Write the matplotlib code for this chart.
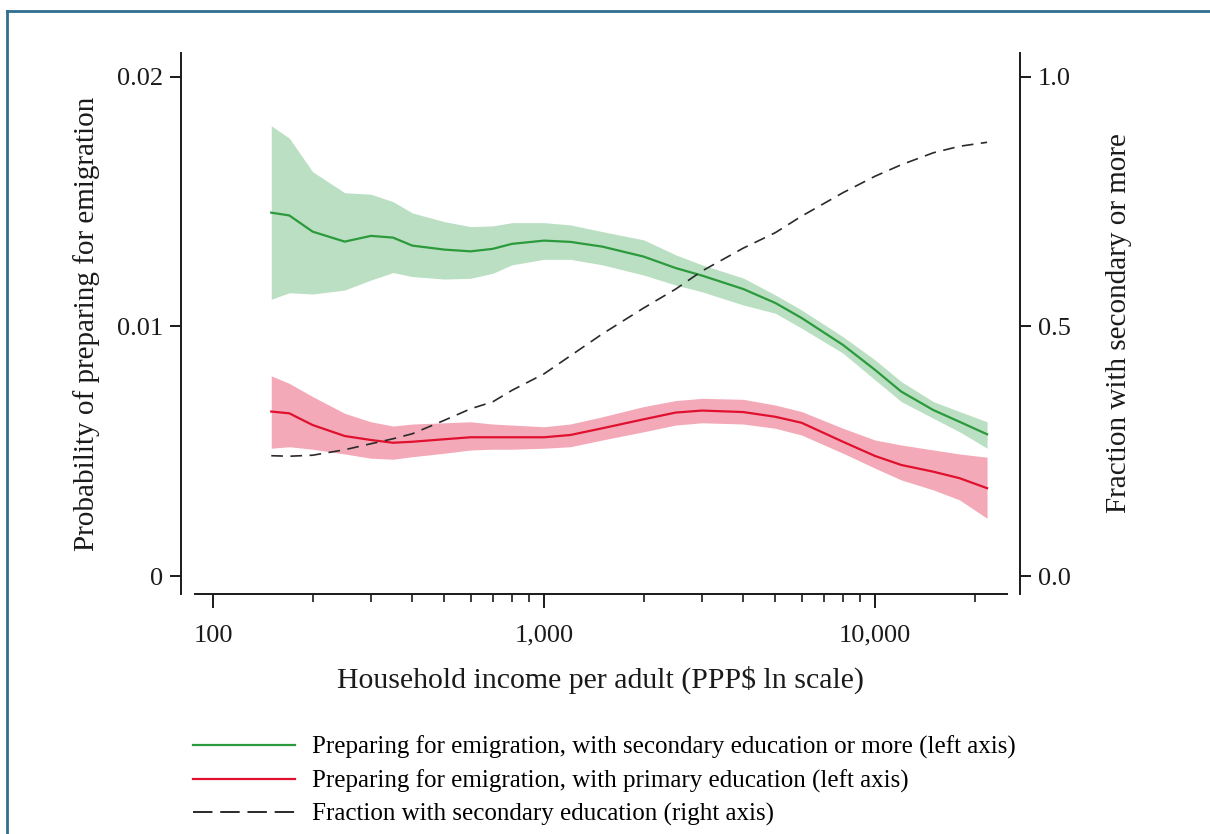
import matplotlib
matplotlib.use("Agg")
import matplotlib.pyplot as plt
from matplotlib.lines import Line2D
from matplotlib.ticker import FixedLocator, NullFormatter

plt.rcParams['font.family'] = ['Liberation Serif', 'DejaVu Serif']

# ---------- data ----------
income = [150, 170, 200, 250, 300, 350, 400, 500, 600, 700, 800, 1000, 1200,
          1500, 2000, 2500, 3000, 4000, 5000, 6000, 8000, 10000, 12000, 15000,
          18000, 21800]

sec_mid = [0.01456, 0.01445, 0.01380, 0.01340, 0.01363, 0.01356, 0.01324, 0.01308,
           0.01301, 0.01311, 0.01331, 0.01344, 0.01339, 0.01320, 0.01280, 0.01234,
           0.01204, 0.01150, 0.01094, 0.01034, 0.00926, 0.00826, 0.00739, 0.00665,
           0.00618, 0.00568]
sec_hi = [0.01804, 0.01755, 0.01620, 0.01536, 0.01530, 0.01500, 0.01455, 0.01420,
          0.01400, 0.01403, 0.01416, 0.01416, 0.01407, 0.01380, 0.01347, 0.01287,
          0.01247, 0.01194, 0.01126, 0.01066, 0.00959, 0.00866, 0.00779, 0.00699,
          0.00659, 0.00618]
sec_lo = [0.01109, 0.01135, 0.01130, 0.01146, 0.01186, 0.01216, 0.01200, 0.01190,
          0.01193, 0.01213, 0.01247, 0.01269, 0.01269, 0.01247, 0.01206, 0.01166,
          0.01139, 0.01086, 0.01053, 0.00993, 0.00893, 0.00786, 0.00699, 0.00632,
          0.00578, 0.00512]

pri_mid = [0.00659, 0.00652, 0.00605, 0.00561, 0.00545, 0.00534, 0.00538, 0.00548,
           0.00556, 0.00556, 0.00556, 0.00556, 0.00565, 0.00592, 0.00628, 0.00655,
           0.00663, 0.00657, 0.00638, 0.00614, 0.00538, 0.00481, 0.00445, 0.00418,
           0.00392, 0.00352]
pri_hi = [0.00802, 0.00772, 0.00719, 0.00652, 0.00618, 0.00601, 0.00609, 0.00614,
          0.00618, 0.00609, 0.00605, 0.00598, 0.00609, 0.00638, 0.00679, 0.00703,
          0.00712, 0.00708, 0.00685, 0.00659, 0.00592, 0.00545, 0.00525, 0.00505,
          0.00489, 0.00476]
pri_lo = [0.00512, 0.00518, 0.00508, 0.00489, 0.00472, 0.00468, 0.00478, 0.00492,
          0.00505, 0.00508, 0.00508, 0.00512, 0.00518, 0.00545, 0.00578, 0.00605,
          0.00614, 0.00609, 0.00592, 0.00565, 0.00492, 0.00432, 0.00385, 0.00345,
          0.00305, 0.00231]

frac_secondary = [0.241, 0.240, 0.242, 0.253, 0.265, 0.275, 0.285, 0.312, 0.335,
                  0.349, 0.372, 0.405, 0.441, 0.485, 0.537, 0.575, 0.611, 0.657,
                  0.688, 0.721, 0.768, 0.801, 0.824, 0.848, 0.861, 0.869]

x_major = [100, 1000, 10000]
x_major_labels = ["100", "1,000", "10,000"]
x_minor = [200, 300, 400, 500, 600, 700, 800, 900,
           2000, 3000, 4000, 5000, 6000, 7000, 8000, 9000, 20000]
left_ticks = [0, 0.01, 0.02]
left_labels = ["0", "0.01", "0.02"]
right_ticks = [0.0, 0.5, 1.0]
right_labels = ["0.0", "0.5", "1.0"]

labels = ["Preparing for emigration, with secondary education or more (left axis)",
          "Preparing for emigration, with primary education (left axis)",
          "Fraction with secondary education (right axis)"]

GREEN = "#2b9a3c"
GREEN_FILL = "#bbdfc2"
RED = "#e0102f"
RED_FILL = "#f4a9b8"
TEXT = "#1a1a1a"

fig = plt.figure(figsize=(12.1, 8.34), dpi=100)
ax = fig.add_axes([0.1496, 0.2878, 0.6934, 0.6487])
ax2 = ax.twinx()

ax.fill_between(income, sec_lo, sec_hi, color=GREEN_FILL, lw=0)
ax.fill_between(income, pri_lo, pri_hi, color=RED_FILL, lw=0)
l1, = ax.plot(income, sec_mid, color=GREEN, lw=1.6)
l2, = ax.plot(income, pri_mid, color=RED, lw=1.6)
l3, = ax2.plot(income, frac_secondary, color="#2a2a2a", lw=1.2, dashes=(7, 4.5))

ax.set_xscale("log")
ax.set_xlim(80.07, 27416)
ax.set_ylim(-0.00072, 0.02096)
ax2.set_ylim(-0.036, 1.048)

ax.xaxis.set_major_locator(FixedLocator(x_major))
ax.set_xticklabels(x_major_labels)
ax.xaxis.set_minor_locator(FixedLocator(x_minor))
ax.xaxis.set_minor_formatter(NullFormatter())
ax.set_yticks(left_ticks)
ax.set_yticklabels(left_labels)
ax2.set_yticks(right_ticks)
ax2.set_yticklabels(right_labels)

for a in (ax, ax2):
    a.spines["top"].set_visible(False)
    for s in a.spines.values():
        s.set_linewidth(1.4)
        s.set_color(TEXT)
ax.spines["right"].set_visible(False)
ax2.spines["left"].set_visible(False)
ax2.spines["bottom"].set_visible(False)
ax.spines["bottom"].set_bounds(88.2, 25060)

ax.tick_params(axis="x", which="major", length=10, width=1.4, labelsize=19,
               pad=12, colors=TEXT)
ax.tick_params(axis="x", which="minor", length=6, width=1.2, colors=TEXT)
ax.tick_params(axis="y", length=8, width=1.4, labelsize=19, pad=5, colors=TEXT)
ax2.tick_params(axis="y", length=8, width=1.4, labelsize=19, pad=5, colors=TEXT)

ax.set_xlabel("Household income per adult (PPP$ ln scale)", fontsize=21.5,
              color=TEXT, labelpad=14)
ax.set_ylabel("Probability of preparing for emigration", fontsize=21,
              color=TEXT, labelpad=12)
ax2.set_ylabel("Fraction with secondary or more", fontsize=21, color=TEXT,
               labelpad=25)

legend_dash = Line2D([], [], color="#2a2a2a", lw=1.4, dashes=(10, 4))
fig.legend([l1, l2, legend_dash], labels, loc="upper left",
           bbox_to_anchor=(0.1595, 0.118), frameon=False, fontsize=18,
           handlelength=4.1, handletextpad=0.65, labelspacing=0.42,
           borderaxespad=0, borderpad=0)

# thin frame around the figure (top and left edges show in the reference)
frame_col = "#2f6f8f"
fig.add_artist(Line2D([7 / 1210, 1.0], [1 - 11 / 834] * 2, color=frame_col, lw=2))
fig.add_artist(Line2D([7 / 1210] * 2, [0, 1 - 11 / 834], color=frame_col, lw=2))

fig.savefig("out.png", dpi=100)
